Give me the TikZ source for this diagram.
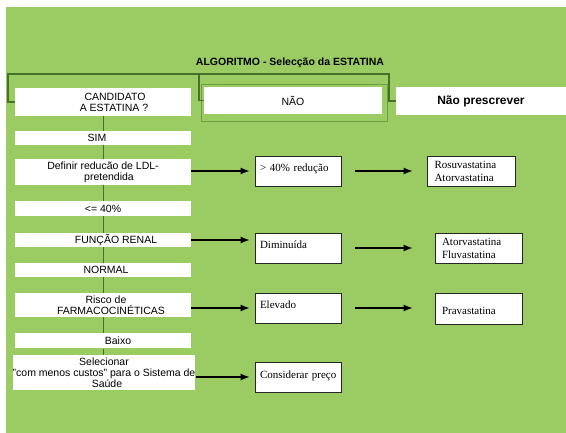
\documentclass[tikz,border=0pt]{standalone}
\usepackage{fontspec}
\setmainfont{Liberation Sans}
\newfontfamily\timesfont{Liberation Serif}
\usetikzlibrary{positioning, arrows.meta}

\definecolor{bggreen}{RGB}{155,203,99}
\definecolor{linegreen}{RGB}{72,112,42}
\definecolor{framegreen}{RGB}{108,158,66}

% push a centred line to the right by half the given space
\newcommand{\nudge}[1]{\hspace*{#1}}

\begin{document}
\begin{tikzpicture}[
    x=1pt, y=-1pt, % picture laid out in pixels, top left is the origin
    % Styles for the nodes and lines
    stepbox/.style={rectangle, fill=white, inner sep=0pt, minimum width=176pt, minimum height=14pt, align=center, font=\fontsize{10.5}{11}\selectfont},
    resultbox/.style={rectangle, fill=white, draw=black!85, line width=0.8pt, inner xsep=5pt, inner ysep=0pt, minimum width=86pt, minimum height=30pt, text width=76pt, align=left, text height=8pt, text depth=6pt, font=\timesfont\fontsize{11}{13}\selectfont},
    drugbox/.style={resultbox, inner xsep=7pt, minimum width=87pt, text width=73pt, text height=, text depth=},
    line/.style={
        draw, line width=1.3pt,
        -{Latex[length=9pt,width=7pt]}
    },
    vline/.style={draw=linegreen, line width=0.9pt}, % green line down the left column
    bracket/.style={draw=linegreen, line width=1.2pt}
]

% Background and page margins
\useasboundingbox (0,0) rectangle (566,433);
\fill[bggreen] (6,7) rectangle (566,433);

\node[font=\bfseries\fontsize{10.5}{12}\selectfont] (title) at (290,63) {ALGORITMO - Selecção da ESTATINA};

% Top row
\node[stepbox, minimum height=28pt] (cand) at (103,102) {\nudge{24pt}CANDIDATO\\\nudge{22pt}A ESTATINA ?};
\node[rectangle, draw=framegreen, line width=1pt, minimum width=186pt, minimum height=37pt] (naoframe) at (294,103.5) {};
\node[stepbox, minimum width=178pt, minimum height=27pt] (nao) at (293,100.5) {NÃO};
\node[stepbox, minimum width=170pt, minimum height=28pt, font=\bfseries\fontsize{12}{13}\selectfont] (naopresc) at (481,101) {Não prescrever};

% Bracket over the top row
\coordinate (jL) at (8,74);
\coordinate (jM) at (199,74);
\coordinate (jR) at (389,74);
\draw[bracket] (cand.west) -| (jL) -- (jR) |- (naopresc.west);
\draw[bracket] (jM) |- (nao.west);

% Left column
\node[stepbox] (sim) at (103,138) {SIM\nudge{12pt}};
\node[stepbox, minimum height=26pt] (ldl) at (103,172) {Definir reducão de LDL-\\\nudge{12pt}pretendida};
\node[stepbox, minimum height=15pt] (le40) at (103,208.5) {<= 40\%};
\node[stepbox] (renal) at (103,240) {\nudge{26pt}FUNÇÃO RENAL};
\node[stepbox] (normal) at (103,270) {\nudge{6pt}NORMAL};
\node[stepbox, minimum height=24pt] (risco) at (103,305) {\nudge{6pt}Risco de\\\nudge{16pt}FARMACOCINÉTICAS};
\node[stepbox, minimum height=15pt] (baixo) at (103,341) {\nudge{30pt}Baixo};
\node[stepbox, minimum width=178pt, minimum height=35pt] (selec) at (104,372.5) {Selecionar\\"com menos custos" para o Sistema de\\\nudge{6pt}Saúde};

\foreach \a/\b in {cand/sim, sim/ldl, ldl/le40, le40/renal, renal/normal, normal/risco, risco/baixo, baixo/selec}
    \draw[vline] (\a.south) -- (\a.south |- \b.north);

% Middle column
\node[resultbox] (r40) at (298,171) {\mbox{> 40\% redução}};
\node[resultbox] (dimin) at (298,248) {Diminuída};
\node[resultbox] (elev) at (298,308) {Elevado};
\node[resultbox] (consid) at (298,377) {\mbox{Considerar preço}};

% Right column
\node[drugbox, minimum width=88pt] (rosu) at (471,171) {Rosuvastatina\\Atorvastatina};
\node[drugbox] (ator) at (478.5,248) {Atorvastatina\\Fluvastatina};
\node[drugbox, minimum height=31pt] (prava) at (478.5,308.5) {\mbox{}\\Pravastatina};

% Arrows
\path[line, shorten >=5pt] (r40.west -| ldl.east) -- (r40.west);
\path[line, shorten >=5pt] (renal.east) -- (renal.east -| dimin.west);
\path[line, shorten >=5pt] (elev.west -| risco.east) -- (elev.west);
\path[line, shorten >=5pt] (consid.west -| selec.east) -- (consid.west);

\path[line, shorten <=14pt, shorten >=14pt] (r40.east) -- (r40.east -| rosu.west);
\path[line, shorten <=14pt, shorten >=22pt] (dimin.east) -- (dimin.east -| ator.west);
\path[line, shorten <=14pt, shorten >=22pt] (elev.east) -- (elev.east -| prava.west);

\end{tikzpicture}
\end{document}
